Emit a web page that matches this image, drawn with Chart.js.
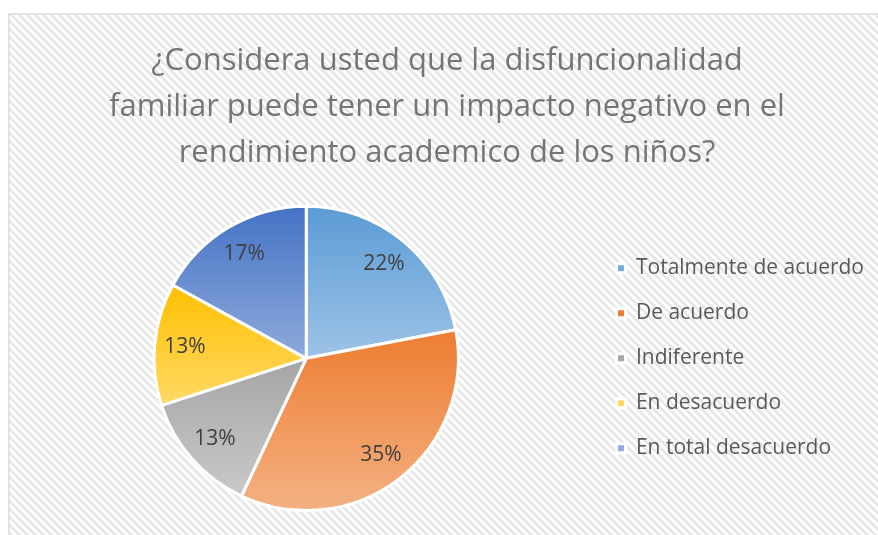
<!DOCTYPE html>
<html>
<head>
<meta charset="utf-8">
<script src="https://cdn.jsdelivr.net/npm/chart.js@4"></script>
<style>
  html, body { margin: 0; padding: 0; background: #fff; overflow: hidden; }
  #box {
    position: absolute; left: 8px; top: 13px; width: 870px; height: 522px;
    border-left: 2px solid #e3e3e3; border-top: 2px solid #e3e3e3; overflow: hidden;
  }
  canvas { display: block; }
</style>
</head>
<body>
<div id="box"><canvas id="pieChart" width="900" height="520"></canvas></div>
<script>
const categories = ['Totalmente de acuerdo', 'De acuerdo', 'Indiferente', 'En desacuerdo', 'En total desacuerdo'];
const values = [22, 35, 13, 13, 17];
const titleLines = ['¿Considera usted que la disfuncionalidad', 'familiar puede tener un impacto negativo en el', 'rendimiento academico de los niños?'];
const topColors = ['#5B9BD5', '#ED7D31', '#A5A5A5', '#FFC000', '#4472C4'];
const bottomColors = ['#9DC3E6', '#F4B183', '#C9C9C9', '#FFD966', '#8FAADC'];

const FONT = '"Open Sans"';

// gradient per slice, top of the slice darker, bottom lighter
function sliceFill(c) {
    const i = c.dataIndex;
    const chart = c.chart;
    const area = chart.chartArea;
    const ctrl = chart.getDatasetMeta(0).controller;
    if (!area || !ctrl || !ctrl.outerRadius) return topColors[i];
    const cx = (area.left + area.right) / 2 + (ctrl.offsetX || 0);
    const cy = (area.top + area.bottom) / 2 + (ctrl.offsetY || 0);
    const r = ctrl.outerRadius;
    const total = values.reduce((a, b) => a + b, 0);
    let a0 = -Math.PI / 2;
    for (let k = 0; k < i; k++) a0 += values[k] / total * 2 * Math.PI;
    const a1 = a0 + values[i] / total * 2 * Math.PI;
    const ys = [cy, cy + r * Math.sin(a0), cy + r * Math.sin(a1)];
    [Math.PI / 2, 3 * Math.PI / 2].forEach(a => { if (a > a0 && a < a1) ys.push(cy + r * Math.sin(a)); });
    const g = chart.ctx.createLinearGradient(0, Math.min(...ys), 0, Math.max(...ys));
    g.addColorStop(0, topColors[i]);
    g.addColorStop(1, bottomColors[i]);
    return g;
}

// hatched background
const hatch = {
    id: 'hatch',
    beforeDraw(chart) {
        const tile = document.createElement('canvas');
        tile.width = tile.height = 8;
        const t = tile.getContext('2d');
        t.fillStyle = '#ffffff';
        t.fillRect(0, 0, 8, 8);
        t.fillStyle = '#e8e8e8';
        for (let y = 0; y < 8; y++)
            for (let x = 0; x < 8; x++)
                if (((x - y) % 8 + 8) % 8 < 4) t.fillRect(x, y, 1, 1);
        const ctx = chart.ctx;
        ctx.save();
        ctx.fillStyle = ctx.createPattern(tile, 'repeat');
        ctx.fillRect(0, 0, chart.width, chart.height);
        ctx.restore();
    }
};

// percentage labels inside slices
const pctLabels = {
    id: 'pctLabels',
    afterDatasetsDraw(chart) {
        const ctx = chart.ctx;
        const meta = chart.getDatasetMeta(0);
        ctx.save();
        ctx.font = '21px ' + FONT;
        ctx.fillStyle = '#404040';
        ctx.textAlign = 'center';
        ctx.textBaseline = 'middle';
        meta.data.forEach((arc, i) => {
            const mid = (arc.startAngle + arc.endAngle) / 2;
            const d = arc.outerRadius * 0.8;
            ctx.fillText(values[i] + '%', arc.x + Math.cos(mid) * d, arc.y + Math.sin(mid) * d);
        });
        ctx.restore();
    }
};

new Chart(document.getElementById('pieChart'), {
    type: 'pie',
    data: {
        labels: categories,
        datasets: [{
            data: values,
            backgroundColor: sliceFill,
            borderColor: '#ffffff',
            borderWidth: 3
        }]
    },
    options: {
        responsive: false,
        animation: false,
        events: [],
        layout: { padding: { left: 10, right: 36, top: 0, bottom: 23 } },
        plugins: {
            title: {
                display: true,
                text: titleLines,
                color: '#757575',
                font: { family: FONT, size: 31, weight: 'normal', lineHeight: 1.48 },
                padding: { top: 23, bottom: 29 }
            },
            legend: {
                position: 'right',
                fullSize: false,
                maxWidth: 286,
                labels: {
                    boxWidth: 9,
                    boxHeight: 9,
                    padding: 24,
                    color: '#595959',
                    font: { family: FONT, size: 21 }
                }
            },
            tooltip: { enabled: false }
        }
    },
    plugins: [hatch, pctLabels]
});
</script>
</body>
</html>
